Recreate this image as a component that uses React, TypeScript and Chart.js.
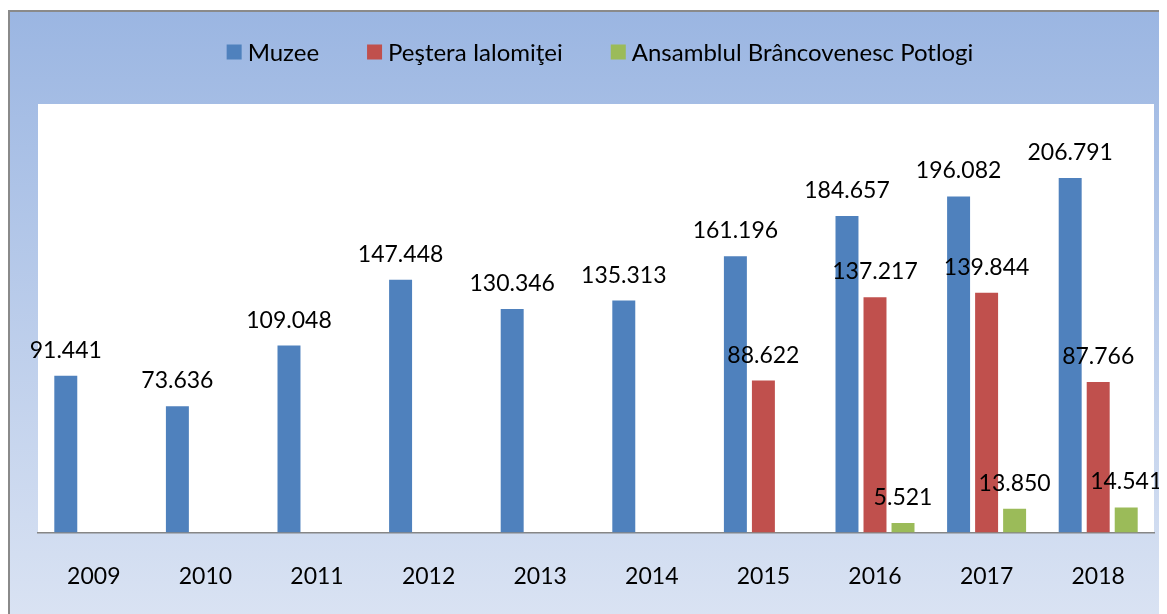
import React, { useEffect, useRef } from 'react';
import { Chart, registerables } from 'chart.js';

Chart.register(...registerables);

const years = ['2009', '2010', '2011', '2012', '2013', '2014', '2015', '2016', '2017', '2018'];
const muzee = [91441, 73636, 109048, 147448, 130346, 135313, 161196, 184657, 196082, 206791];
const pestera = [null, null, null, null, null, null, 88622, 137217, 139844, 87766];
const ansamblul = [null, null, null, null, null, null, null, 5521, 13850, 14541];
const seriesNames = ['Muzee', 'Peştera Ialomiţei', 'Ansamblul Brâncovenesc Potlogi'];
const seriesColors = ['#4F81BD', '#C0504D', '#9BBB59'];
const yMax = 250000;

const FONT = 'Lato, "Open Sans", sans-serif';

const fmt = (v: number) => {
  const th = Math.floor(v / 1000);
  const rest = v % 1000;
  return th > 0 ? `${th}.${String(rest).padStart(3, '0')}` : String(rest);
};

const plotBgPlugin = {
  id: 'plotBg',
  beforeDraw(chart: any) {
    const { ctx, chartArea } = chart;
    ctx.save();
    ctx.fillStyle = '#FFFFFF';
    ctx.fillRect(chartArea.left, chartArea.top, chartArea.right - chartArea.left, chartArea.bottom - chartArea.top);
    ctx.restore();
  },
};

const dataLabelPlugin = {
  id: 'dataLabels',
  afterDatasetsDraw(chart: any) {
    const { ctx } = chart;
    ctx.save();
    ctx.font = `23px ${FONT}`;
    ctx.fillStyle = '#000000';
    ctx.textAlign = 'center';
    ctx.textBaseline = 'alphabetic';
    chart.data.datasets.forEach((ds: any, di: number) => {
      const meta = chart.getDatasetMeta(di);
      meta.data.forEach((bar: any, i: number) => {
        const v = ds.data[i];
        if (v === null || v === undefined) return;
        ctx.fillText(fmt(v), bar.x, bar.y - 18);
      });
    });
    ctx.restore();
  },
};

const legendPlugin = {
  id: 'customLegend',
  afterDraw(chart: any) {
    const { ctx, chartArea } = chart;
    ctx.save();
    ctx.font = `24px ${FONT}`;
    ctx.textBaseline = 'middle';
    ctx.textAlign = 'left';
    const box = 15;
    const boxGap = 6;
    const itemGap = 48;
    const items = chart.data.datasets.map((ds: any) => ({
      label: ds.label,
      color: ds.backgroundColor,
      w: box + boxGap + ctx.measureText(ds.label).width,
    }));
    const total = items.reduce((s: number, it: any) => s + it.w, 0) + itemGap * (items.length - 1);
    const center = (chartArea.left + chartArea.right) / 2 + 4;
    let x = center - total / 2;
    const yMid = 40;
    items.forEach((it: any) => {
      ctx.fillStyle = it.color;
      ctx.fillRect(x, yMid - box / 2, box, box);
      ctx.fillStyle = '#000000';
      ctx.fillText(it.label, x + box + boxGap, yMid + 1);
      x += it.w + itemGap;
    });
    ctx.restore();
  },
};

export default function App() {
  const canvasRef = useRef<HTMLCanvasElement | null>(null);

  useEffect(() => {
    document.documentElement.style.overflow = 'hidden';
    document.body.style.overflow = 'hidden';
    const canvas = canvasRef.current;
    if (!canvas) return;
    const chart = new Chart(canvas, {
      type: 'bar',
      data: {
        labels: years,
        datasets: [
          { label: seriesNames[0], data: muzee, backgroundColor: seriesColors[0] },
          { label: seriesNames[1], data: pestera, backgroundColor: seriesColors[1] },
          { label: seriesNames[2], data: ansamblul, backgroundColor: seriesColors[2] },
        ],
      },
      options: {
        responsive: false,
        animation: false,
        maintainAspectRatio: false,
        layout: { padding: { top: 92, left: 28, right: 13, bottom: 2 } },
        datasets: {
          bar: { categoryPercentage: 0.753, barPercentage: 0.82 },
        },
        plugins: {
          legend: { display: false },
          tooltip: { enabled: false },
        },
        scales: {
          x: {
            grid: { display: false },
            border: { display: true, color: '#868686', width: 1.5 },
            ticks: {
              color: '#000000',
              font: { family: FONT, size: 23 },
              padding: 22,
            },
          },
          y: {
            display: false,
            min: 0,
            max: yMax,
          },
        },
      },
      plugins: [plotBgPlugin, dataLabelPlugin, legendPlugin],
    });
    return () => chart.destroy();
  }, []);

  return (
    <div
      style={{
        position: 'relative',
        top: 2,
        width: 1159,
        height: 612,
        boxSizing: 'border-box',
        borderLeft: '2px solid #8a8a8a',
        borderTop: '2px solid #8a8a8a',
        background: 'linear-gradient(to bottom, #9BB6E2 0%, #DAE3F3 100%)',
        overflow: 'hidden',
      }}
    >
      <canvas ref={canvasRef} width={1157} height={602} style={{ display: 'block' }} />
    </div>
  );
}
